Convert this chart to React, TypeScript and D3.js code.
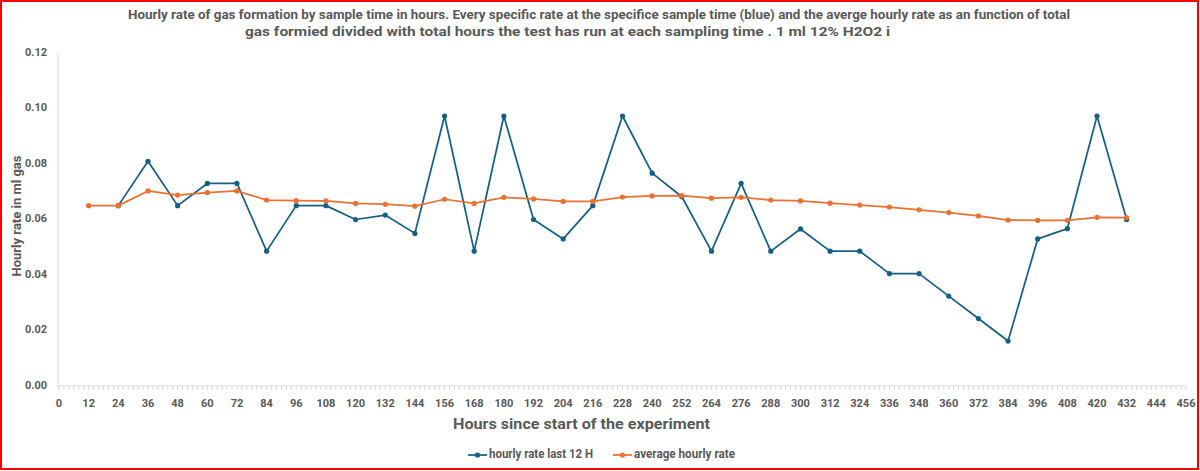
import {useEffect, useRef} from 'react'
import * as d3 from 'd3'

// sample times (hours)
const hoursAvg = [12, 24, 36, 48, 60, 72, 84, 96, 108, 120, 132, 144, 156, 168, 180, 192, 204, 216, 228, 240, 252, 264, 276, 288, 300, 312, 324, 336, 348, 360, 372, 384, 396, 408, 420, 432]
const hoursRate = hoursAvg.slice(1)

const rateLast12 = [0.065, 0.081, 0.065, 0.073, 0.073, 0.0486, 0.065, 0.065, 0.060, 0.0616, 0.055, 0.0973, 0.0486, 0.0973, 0.060, 0.053, 0.065, 0.0973, 0.0767, 0.0682, 0.0486, 0.073, 0.0486, 0.0566, 0.0486, 0.0486, 0.0405, 0.0405, 0.0324, 0.0243, 0.0162, 0.053, 0.0567, 0.0973, 0.060]
const avgRate = [0.065, 0.065, 0.0703, 0.0688, 0.0697, 0.0703, 0.067, 0.0668, 0.0667, 0.0658, 0.0655, 0.0648, 0.0673, 0.0658, 0.068, 0.0674, 0.0665, 0.0665, 0.0681, 0.0685, 0.0686, 0.0677, 0.068, 0.067, 0.0667, 0.0659, 0.0652, 0.0645, 0.0635, 0.0625, 0.0613, 0.0598, 0.0597, 0.0597, 0.0608, 0.0607]

const yTicks = [0, 0.02, 0.04, 0.06, 0.08, 0.10, 0.12]
const xTicks = d3.range(0, 457, 12)

const titleLines = [
    'Hourly rate of gas formation by sample time in hours. Every specific rate at the specifice sample time (blue)  and the averge hourly rate as an function of total',
    'gas formied divided with total hours the test has run at each sampling time . 1 ml 12% H2O2 i'
]
const seriesNames = ['hourly rate last 12 H', 'average hourly rate']
const blue = '#156082'
const orange = '#E97132'
const FONT = "Roboto, 'Liberation Sans', sans-serif"

function App(){
    const svg = useRef<SVGSVGElement>(null)

    useEffect(() => {
        const W = 1200, H = 471
        const xScale = d3.scaleLinear().domain([0, 456]).range([59, 1186])
        const yScale = d3.scaleLinear().domain([0, 0.12]).range([386, 53])

        const root = d3.select(svg.current)
            .attr('width', W)
            .attr('height', H)
            .style('position', 'absolute')
            .style('left', '0px')
            .style('top', '0px')
            .style('font-family', FONT)
        root.selectAll('*').remove()

        root.append('rect')
            .attr('x', 0).attr('y', 0).attr('width', W).attr('height', H)
            .attr('fill', 'white')
        //red frame around the chart
        root.append('rect')
            .attr('x', 1).attr('y', 1).attr('width', W - 3).attr('height', H - 3)
            .attr('fill', 'none').attr('stroke', '#ff0000').attr('stroke-width', 2)

        //title, squeezed to the narrow width of the original
        const titleX = [128, 245]
        const titleW = [942, 645]
        titleLines.forEach((t, i) => {
            root.append('text')
                .attr('x', titleX[i])
                .attr('y', 19 + i * 17)
                .attr('fill', '#595959')
                .attr('textLength', titleW[i])
                .attr('lengthAdjust', 'spacingAndGlyphs')
                .style('font-size', '13px')
                .style('font-weight', 'bold')
                .text(t)
        })

        //axes
        const axisColor = '#d9d9d9'
        root.append('line')
            .attr('x1', xScale(0) - 1).attr('x2', xScale(0) - 1)
            .attr('y1', yScale(0.12)).attr('y2', yScale(0))
            .attr('stroke', axisColor)
        root.append('line')
            .attr('x1', xScale(0) - 1).attr('x2', xScale(456))
            .attr('y1', yScale(0)).attr('y2', yScale(0))
            .attr('stroke', axisColor)
        root.append('g').selectAll('line')
            .data(d3.range(0, 457, 2))
            .join('line')
                .attr('x1', d => xScale(d)).attr('x2', d => xScale(d))
                .attr('y1', yScale(0)).attr('y2', yScale(0) + 4)
                .attr('stroke', axisColor)

        root.append('g').selectAll('text')
            .data(yTicks)
            .join('text')
                .attr('x', 47)
                .attr('y', d => yScale(d))
                .attr('dominant-baseline', 'middle')
                .attr('text-anchor', 'end')
                .attr('fill', '#595959')
                .style('font-size', '11px')
                .style('font-weight', 'bold')
                .text(d => d.toFixed(2))

        root.append('g').selectAll('text')
            .data(xTicks)
            .join('text')
                .attr('x', d => xScale(d))
                .attr('y', 407)
                .attr('text-anchor', 'middle')
                .attr('fill', '#595959')
                .style('font-size', '11px')
                .style('font-weight', 'bold')
                .text(d => d)

        root.append('text')
            .attr('x', 453).attr('y', 429)
            .attr('fill', '#595959')
            .attr('textLength', 257)
            .attr('lengthAdjust', 'spacingAndGlyphs')
            .style('font-size', '14px')
            .style('font-weight', 'bold')
            .text('Hours since start of the experiment')

        root.append('text')
            .attr('transform', 'translate(21,216) rotate(-90)')
            .attr('text-anchor', 'middle')
            .attr('fill', '#595959')
            .style('font-size', '13px')
            .style('font-weight', 'bold')
            .text('Hourly rate in ml gas')

        //series
        const series = [
            {name: seriesNames[0], xs: hoursRate, ys: rateLast12, color: blue},
            {name: seriesNames[1], xs: hoursAvg, ys: avgRate, color: orange},
        ]
        const line = d3.line<[number, number]>()
            .x(d => xScale(d[0]))
            .y(d => yScale(d[1]))

        series.forEach(s => {
            const pts = s.xs.map((x, i) => [x, s.ys[i]] as [number, number])
            const g = root.append('g')
            g.append('path')
                .attr('d', line(pts))
                .attr('fill', 'none')
                .attr('stroke', s.color)
                .attr('stroke-width', 1.75)
                .attr('stroke-linejoin', 'round')
            g.selectAll('circle')
                .data(pts)
                .join('circle')
                    .attr('cx', d => xScale(d[0]))
                    .attr('cy', d => yScale(d[1]))
                    .attr('r', 2.6)
                    .attr('fill', s.color)
        })

        //legend
        const legendX = [468, 613]
        const legendW = [104, 101]
        series.forEach((s, i) => {
            const g = root.append('g').attr('transform', `translate(${legendX[i]},455)`)
            g.append('line')
                .attr('x1', 0).attr('x2', 19)
                .attr('stroke', s.color).attr('stroke-width', 1.75)
            g.append('circle').attr('cx', 9.5).attr('r', 2.6).attr('fill', s.color)
            g.append('text')
                .attr('x', 21).attr('y', 0)
                .attr('dominant-baseline', 'middle')
                .attr('fill', '#595959')
                .attr('textLength', legendW[i])
                .attr('lengthAdjust', 'spacingAndGlyphs')
                .style('font-size', '12px')
                .style('font-weight', 'bold')
                .text(s.name)
        })
    }, [])

    return(
        <svg ref={svg}></svg>
    )
}

export default App
